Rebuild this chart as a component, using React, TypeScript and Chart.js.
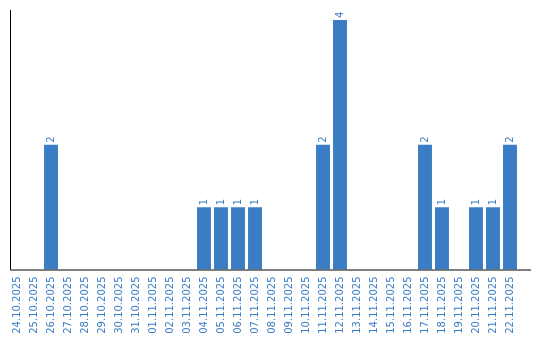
import React, { useEffect, useRef } from "react";
import { Chart, registerables } from "chart.js";

Chart.register(...registerables);

const categories: string[] = [
  "24.10.2025", "25.10.2025", "26.10.2025", "27.10.2025", "28.10.2025",
  "29.10.2025", "30.10.2025", "31.10.2025", "01.11.2025", "02.11.2025",
  "03.11.2025", "04.11.2025", "05.11.2025", "06.11.2025", "07.11.2025",
  "08.11.2025", "09.11.2025", "10.11.2025", "11.11.2025", "12.11.2025",
  "13.11.2025", "14.11.2025", "15.11.2025", "16.11.2025", "17.11.2025",
  "18.11.2025", "19.11.2025", "20.11.2025", "21.11.2025", "22.11.2025",
];

const counts: number[] = [
  0, 0, 2, 0, 0,
  0, 0, 0, 0, 0,
  0, 1, 1, 1, 1,
  0, 0, 0, 2, 4,
  0, 0, 0, 0, 2,
  1, 0, 1, 1, 2,
];

const BLUE = "#3b7dc4";
const FONT = "DejaVu Sans";

const axisLinesPlugin = {
  id: "axisLines",
  afterDraw(chart: any) {
    const ctx = chart.ctx;
    const area = chart.chartArea;
    ctx.save();
    ctx.strokeStyle = "#000";
    ctx.lineWidth = 1;
    ctx.beginPath();
    ctx.moveTo(10.5, 10);
    ctx.lineTo(10.5, area.bottom);
    ctx.moveTo(10, area.bottom + 0.5);
    ctx.lineTo(531, area.bottom + 0.5);
    ctx.stroke();
    ctx.restore();
  },
};

const valueLabelsPlugin = {
  id: "valueLabels",
  afterDatasetsDraw(chart: any) {
    const ctx = chart.ctx;
    const meta = chart.getDatasetMeta(0);
    const data = chart.data.datasets[0].data as number[];
    ctx.save();
    ctx.fillStyle = BLUE;
    ctx.font = `10px "${FONT}"`;
    ctx.textAlign = "left";
    ctx.textBaseline = "middle";
    meta.data.forEach((bar: any, i: number) => {
      const v = data[i];
      if (!v) return;
      ctx.save();
      ctx.translate(bar.x, bar.y - 2);
      ctx.rotate(-Math.PI / 2);
      ctx.fillText(String(v), 0, 0);
      ctx.restore();
    });
    ctx.restore();
  },
};

export default function App() {
  const canvasRef = useRef<HTMLCanvasElement | null>(null);

  useEffect(() => {
    document.body.style.margin = "0";
    if (!canvasRef.current) return;
    const chart = new Chart(canvasRef.current, {
      type: "bar",
      data: {
        labels: categories,
        datasets: [
          {
            data: counts,
            backgroundColor: BLUE,
            borderWidth: 0,
            categoryPercentage: 1,
            barPercentage: 0.82,
          },
        ],
      },
      options: {
        animation: false,
        responsive: false,
        maintainAspectRatio: false,
        layout: { padding: { left: 8.5, right: 21.5, top: 20, bottom: 0 } },
        plugins: {
          legend: { display: false },
          tooltip: { enabled: false },
        },
        scales: {
          x: {
            type: "category",
            offset: true,
            grid: { display: false, drawTicks: false },
            border: { display: false },
            ticks: {
              color: BLUE,
              font: { family: FONT, size: 10 },
              minRotation: 90,
              maxRotation: 90,
              autoSkip: false,
              padding: 7,
            },
            afterFit(scale: any) {
              scale.height = 70.5;
            },
          },
          y: {
            display: false,
            min: 0,
            max: 4,
          },
        },
      },
      plugins: [axisLinesPlugin, valueLabelsPlugin],
    });
    return () => chart.destroy();
  }, []);

  return (
    <div style={{ width: 540, height: 340 }}>
      <canvas ref={canvasRef} width={540} height={340} style={{ display: "block" }} />
    </div>
  );
}
